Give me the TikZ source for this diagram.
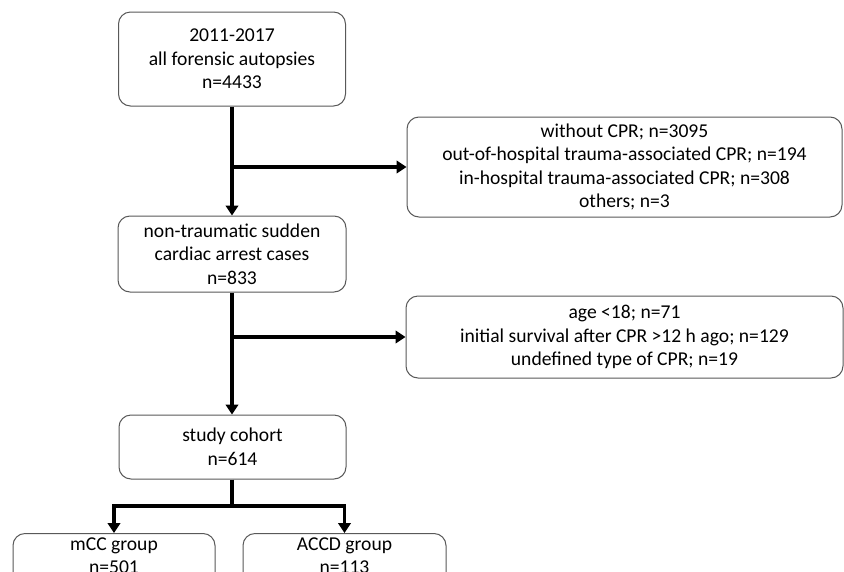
\documentclass[tikz,border=0pt]{standalone}
\usepackage{fontspec}
\setmainfont{Carlito}
\usetikzlibrary{arrows.meta}
\tikzset{
  box/.style={draw=black!65, line width=1pt, rounded corners=12pt, fill=white,
    align=center, inner sep=0pt, font=\fontsize{19.6}{23.5}\selectfont},
  arr/.style={draw=black, line width=3.8pt, -{Triangle[length=10pt,width=12.5pt]}},
  ln/.style={draw=black, line width=3.8pt}
}
\begin{document}
\begin{tikzpicture}[x=1pt,y=-1pt]
\clip (0,0) rectangle (844,571);
\fill[white] (0,0) rectangle (844,571);
\node[box, minimum width=227pt, minimum height=94pt] (b1) at (232,59)
  {2011-2017\\all forensic autopsies\\n=4433};
\node[box, minimum width=435pt, minimum height=100pt] (b2) at (624.5,167)
  {without CPR; n=3095\\out-of-hospital trauma-associated CPR; n=194\\in-hospital trauma-associated CPR; n=308\\others; n=3};
\node[box, minimum width=228pt, minimum height=76pt] (b3) at (232,254)
  {non-traumatic sudden\\cardiac arrest cases\\n=833};
\node[box, minimum width=437pt, minimum height=82pt] (b4) at (624.5,337)
  {age <18; n=71\\initial survival after CPR >12 h ago; n=129\\undefined type of CPR; n=19};
\node[box, minimum width=227pt, minimum height=64pt] (b5) at (232.5,447)
  {study cohort\\n=614};
\node[box, minimum width=202pt, anchor=north, inner ysep=4pt, text depth=32pt] (g1) at (114,533)
  {mCC group\\n=501};
\node[box, minimum width=203pt, anchor=north, inner ysep=4pt, text depth=32pt] (g2) at (344.5,533)
  {ACCD group\\n=113};
\draw[arr] (b1.south) -- (b3.north);
\coordinate (j1) at (b1.south |- b2.west);
\draw[arr] (j1) -- (b2.west);
\draw[arr] (b3.south) -- (b3.south |- b5.north);
\coordinate (j2) at (b3.south |- b4.west);
\draw[arr] (j2) -- (b4.west);
\coordinate (s) at (232,506);
\draw[ln] (b5.south -| s) -- (s);
\draw[arr] (s) -| (g1.north);
\draw[arr] (s) -| (g2.north);
\end{tikzpicture}
\end{document}
